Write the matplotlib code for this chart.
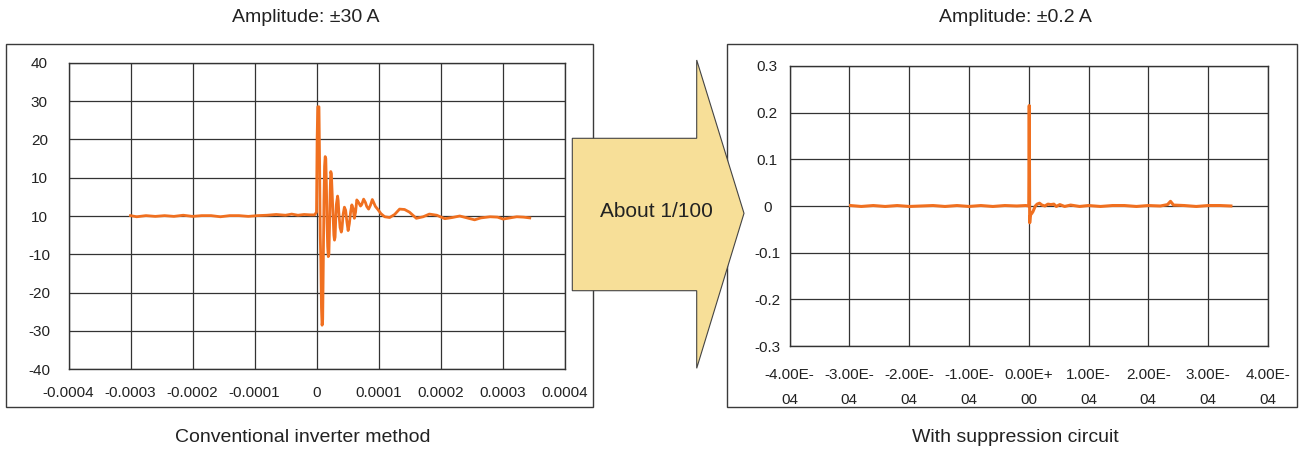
import numpy as np
import matplotlib.pyplot as plt
from matplotlib.patches import Rectangle, Polygon

plt.rcParams['font.family'] = ['Liberation Sans', 'DejaVu Sans']

# conventional inverter method: time (us), current (A)
conv_t_us = [-300, -290, -275, -260, -245, -230, -215, -200, -185, -170, -155, -140,
             -125, -110, -95, -80, -65, -50, -40, -30, -20, -10, -3,
             0, 1, 2, 4, 5, 6, 7, 8, 9, 10, 11, 12, 13, 14, 15, 16, 17, 18, 19,
             20, 21, 22, 23, 24, 26, 28, 29, 30, 31, 32, 34, 35, 36, 38, 40,
             41, 43, 45, 47, 49, 51, 53, 55, 57, 59, 61, 63, 65, 68, 71, 73,
             76, 79, 81, 84, 87, 90, 92, 95, 99, 104, 110, 118, 126, 134, 142,
             150, 161, 172, 182, 194, 207, 219, 231, 243, 255, 265, 280, 292,
             301, 312, 323, 334, 344]
conv_i = [0.1, -0.2, 0.1, -0.1, 0.1, -0.1, 0.2, -0.1, 0.1, 0.1, -0.2, 0.1,
          0.1, -0.1, 0.1, 0.2, 0.4, 0.2, 0.5, 0.2, 0.4, 0.3, 0.3,
          1.0, 20.0, 28.5, 28.5, 14.0, -5.0, -12.0, -24.0, -28.5, -27.0, -12.0, 4.0, 13.0, 15.5, 15.0, 8.0, -2.0,
          -8.0, -10.6, -10.0, -3.0, 6.0, 11.6, 11.0, 3.0, -5.0, -6.3, -5.5, -1.0, 3.0, 5.2, 4.0, 1.0, -3.0, -4.2,
          -3.5, 0.5, 2.3, 1.5, -1.5, -3.8, -2.0, 1.0, 2.9, 2.0, -0.6, 1.0, 4.2, 3.5, 2.6, 3.0,
          4.4, 3.5, 2.5, 1.8, 2.8, 4.3, 3.6, 2.5, 1.7, 0.6, -0.2, -0.4, 0.4, 1.8, 1.7,
          1.0, -0.6, -0.2, 0.5, 0.2, -0.7, -0.4, 0.0, -0.5, -1.0, -0.5, -0.2, -0.3,
          -0.8, -0.5, -0.2, -0.3, -0.5]

# with suppression circuit: time (us), current (A)
supp_t_us = [-298, -280, -260, -240, -220, -200, -180, -160, -140, -120, -100, -80,
             -60, -40, -20, -5, 0, 0.8, 1.2, 1.6, 2.4, 3.5, 5, 7, 9, 11, 14, 18,
             22, 27, 32, 37, 42, 46, 52, 60, 70, 85, 100, 120, 140, 160, 180,
             200, 220, 232, 237, 242, 260, 280, 300, 320, 338]
supp_i = [0.001, -0.001, 0.001, -0.001, 0.001, -0.001, 0.0, 0.001, -0.001, 0.001, -0.001, 0.001,
          -0.001, 0.001, 0.0, 0.001, 0.0, 0.215, 0.10, -0.036, -0.022, -0.018, -0.016, -0.012, -0.006, 0.0, 0.004, 0.006,
          0.002, 0.0, 0.004, 0.003, 0.004, -0.001, 0.003, -0.001, 0.002, -0.001, 0.001, -0.001, 0.001, 0.001, -0.001,
          0.001, 0.0, 0.003, 0.010, 0.002, 0.001, -0.001, 0.001, 0.001, 0.0]

left_yticks = [-40, -30, -20, -10, 0, 10, 20, 30, 40]
left_ylabels = ['-40', '-30', '-20', '-10', '10', '10', '20', '30', '40']
left_xticks = [-0.0004, -0.0003, -0.0002, -0.0001, 0, 0.0001, 0.0002, 0.0003, 0.0004]
left_xlabels = ['-0.0004', '-0.0003', '-0.0002', '-0.0001', '0', '0.0001', '0.0002', '0.0003', '0.0004']
right_yticks = [-0.3, -0.2, -0.1, 0, 0.1, 0.2, 0.3]
right_ylabels = ['-0.3', '-0.2', '-0.1', '0', '0.1', '0.2', '0.3']
right_xlabels = ['-4.00E-\n04', '-3.00E-\n04', '-2.00E-\n04', '-1.00E-\n04', '0.00E+\n00',
                 '1.00E-\n04', '2.00E-\n04', '3.00E-\n04', '4.00E-\n04']

W, H = 1299, 453
fig = plt.figure(figsize=(W / 100, H / 100), dpi=100)


def fx(px):
    return px / W


def fy(py):
    return 1 - py / H


def box(x0, y0, x1, y1):
    fig.add_artist(Rectangle((fx(x0), fy(y1)), fx(x1) - fx(x0), fy(y0) - fy(y1),
                             transform=fig.transFigure, fill=False, ec='#3a3a3a', lw=1.0, zorder=1))


line_col = '#f07020'
grid_col = '#333333'

# outer frames
box(6, 44, 593, 407)
box(727, 44, 1297, 407)

# left chart
ax1 = fig.add_axes([fx(68.5), fy(369.3), fx(564.5) - fx(68.5), fy(62.7) - fy(369.3)])
ax1.plot(np.array(conv_t_us) * 1e-6, conv_i, color=line_col, lw=2.0)
ax1.set_xlim(-0.0004, 0.0004)
ax1.set_ylim(-40, 40)
ax1.set_xticks(left_xticks)
ax1.set_xticklabels(left_xlabels)
ax1.set_yticks(left_yticks)
ax1.set_yticklabels(left_ylabels)
ax1.tick_params(axis='x', length=0, pad=12, labelsize=11, colors='#222222')
ax1.tick_params(axis='y', length=0, pad=21, labelsize=11, colors='#222222')
plt.setp(ax1.get_yticklabels(), ha='center')

# right chart
ax2 = fig.add_axes([fx(789.5), fy(346.1), fx(1268) - fx(789.5), fy(65.9) - fy(346.1)])
ax2.plot(np.array(supp_t_us) * 1e-6, supp_i, color=line_col, lw=2.2)
ax2.set_xlim(-0.0004, 0.0004)
ax2.set_ylim(-0.3, 0.3)
ax2.set_xticks(left_xticks)
ax2.set_xticklabels(right_xlabels, linespacing=1.95)
ax2.set_yticks(right_yticks)
ax2.set_yticklabels(right_ylabels)
ax2.tick_params(axis='x', length=0, pad=16, labelsize=11, colors='#222222')
ax2.tick_params(axis='y', length=0, pad=16, labelsize=11, colors='#222222')
plt.setp(ax2.get_yticklabels(), ha='center')

for ax in (ax1, ax2):
    ax.grid(True, color=grid_col, lw=0.9)
    ax.set_axisbelow(True)
    for s in ax.spines.values():
        s.set_color(grid_col)
        s.set_linewidth(1.0)

# big arrow between the charts
arrow_px = [(572.3, 138.3), (696.7, 138.3), (696.7, 60), (744, 213.3),
            (696.7, 368.3), (696.7, 290.7), (572.3, 290.7)]
fig.add_artist(Polygon([(fx(x), fy(y)) for x, y in arrow_px], closed=True,
                       transform=fig.transFigure, fc='#f7df98', ec='#444444', lw=0.8, zorder=5))
fig.text(fx(656.7), fy(212), 'About 1/100', ha='center', va='center', fontsize=15,
         color='#222222', zorder=6)

# captions
fig.text(fx(306), fy(17), 'Amplitude: \u00b130 A', ha='center', va='center', fontsize=14, color='#222222')
fig.text(fx(1015), fy(17), 'Amplitude: \u00b10.2 A', ha='center', va='center', fontsize=14, color='#222222')
fig.text(fx(303), fy(438), 'Conventional inverter method', ha='center', va='center', fontsize=14, color='#222222')
fig.text(fx(1015), fy(438), 'With suppression circuit', ha='center', va='center', fontsize=14, color='#222222')

fig.savefig('out.png', dpi=100)
